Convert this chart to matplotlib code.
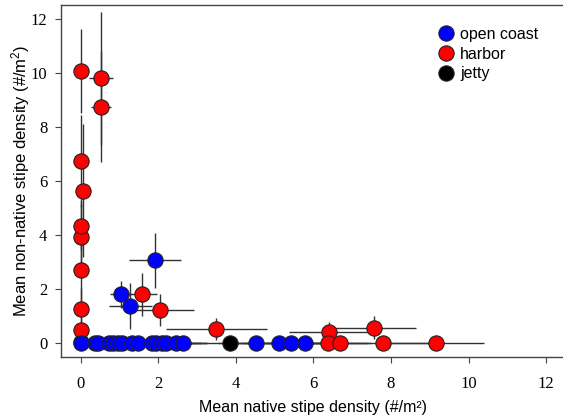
import matplotlib
matplotlib.use("Agg")
import matplotlib.pyplot as plt

plt.rcParams["font.family"] = "serif"
plt.rcParams["font.serif"] = ["Liberation Serif", "DejaVu Serif"]
plt.rcParams["mathtext.default"] = "regular"

# harbor sites (red)
harbor_x = [0.0, 0.0, 0.0, 0.0, 0.0, 0.0, 0.0, 0.07, 0.0, 0.52, 0.52,
            1.58, 2.05, 3.50, 6.40, 7.55, 6.37, 6.68, 7.78, 9.15]
harbor_y = [0.05, 0.48, 1.25, 2.70, 3.94, 4.34, 6.74, 5.64, 10.07, 9.80, 8.75,
            1.80, 1.22, 0.52, 0.42, 0.57, 0.0, 0.0, 0.0, 0.0]
harbor_xerr = [0.0, 0.0, 0.0, 0.0, 0.0, 0.0, 0.0, 0.0, 0.0, 0.30, 0.26,
               0.39, 0.88, 1.30, 1.04, 1.10, 1.0, 0.8, 1.30, 1.25]
harbor_yerr = [0.1, 0.5, 0.8, 1.45, 1.2, 0.9, 1.7, 2.47, 1.55, 2.46, 2.06,
               0.80, 0.58, 0.42, 0.35, 0.42, 0.0, 0.0, 0.0, 0.0]

# open coast sites (blue)
coast_x = [0.0, 0.38, 0.45, 0.72, 0.84, 0.97, 1.06, 1.32, 1.49, 1.85, 1.95,
           2.10, 2.20, 2.45, 2.65, 4.53, 5.12, 5.42, 5.79, 1.04, 1.28, 1.91]
coast_y = [0.0] * 19 + [1.80, 1.38, 3.07]
coast_xerr = [0.0, 0.3, 0.3, 0.4, 0.4, 0.5, 0.5, 0.6, 0.6, 0.7, 0.7,
              0.8, 0.9, 0.8, 0.6, 1.0, 1.1, 1.2, 1.0, 0.28, 0.56, 0.67]
coast_yerr = [0.0] * 19 + [0.50, 0.85, 1.02]

# jetty site (black)
jetty_x = [3.84]
jetty_y = [0.0]
jetty_xerr = [1.6]
jetty_yerr = [0.0]

ticks = [0, 2, 4, 6, 8, 10, 12]

fig = plt.figure(figsize=(5.63, 4.17), dpi=100)
ax = fig.add_axes([0.1075, 0.144, 0.8985, 0.844])

groups = [
    (harbor_x, harbor_y, harbor_xerr, harbor_yerr, "#ff0000", "harbor"),
    (coast_x, coast_y, coast_xerr, coast_yerr, "#0000ff", "open coast"),
    (jetty_x, jetty_y, jetty_xerr, jetty_yerr, "#000000", "jetty"),
]
handles = {}
for gx, gy, gxe, gye, col, lab in groups:
    ax.errorbar(gx, gy, xerr=gxe, yerr=gye, fmt="none", ecolor="#333333",
                elinewidth=1.0, capsize=0, zorder=1)
for gx, gy, gxe, gye, col, lab in groups:
    h, = ax.plot(gx, gy, "o", ms=11, mfc=col, mec="#222222", mew=0.8,
                 ls="none", label=lab, zorder=3)
    handles[lab] = h

ax.set_xlim(-0.52, 12.52)
ax.set_ylim(-0.52, 12.52)
ax.set_xticks(ticks)
ax.set_yticks(ticks)
ax.spines["right"].set_visible(False)
for s in ax.spines.values():
    s.set_color("#444444")
    s.set_linewidth(1.0)
ax.tick_params(direction="out", length=4.5, color="#444444", labelsize=12)
ax.tick_params(axis="x", pad=9)
ax.tick_params(axis="y", pad=5)

ax.set_xlabel("Mean native stipe density (#/m²)", family="Liberation Sans",
              fontsize=11.5, labelpad=6)
ax.set_ylabel(r"Mean non-native stipe density (#/m$^2$)",
              family="Liberation Sans", fontsize=12)
ax.yaxis.set_label_coords(-0.057, 0.5)

leg = ax.legend([handles["open coast"], handles["harbor"], handles["jetty"]],
                ["open coast", "harbor", "jetty"],
                loc="upper left", bbox_to_anchor=(0.746, 0.97),
                bbox_transform=fig.transFigure, frameon=False,
                handletextpad=0.1, labelspacing=0.3, handlelength=1.5,
                prop={"family": "Liberation Sans", "size": 11.5})

fig.savefig("out.png", dpi=100)
